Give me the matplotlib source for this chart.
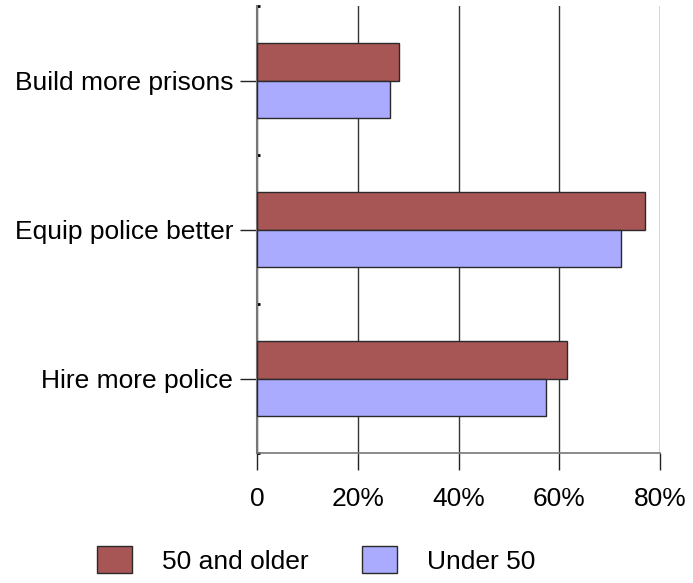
import matplotlib
matplotlib.use("Agg")
import matplotlib.pyplot as plt
import numpy as np
from matplotlib.patches import Patch

categories = ["Build more prisons", "Equip police better", "Hire more police"]
older = [28.1, 77.0, 61.5]
under = [26.4, 72.2, 57.4]
series_names = ["50 and older", "Under 50"]
xticks = [0, 20, 40, 60, 80]
xticklabels = ["0", "20%", "40%", "60%", "80%"]

c_old = "#A85555"
c_under = "#AAAAFF"
edge = "#2a2a2a"

plt.rcParams['font.family'] = ['Liberation Sans', 'DejaVu Sans']
fs = 19

fig = plt.figure(figsize=(6.93, 5.83), dpi=100)
ax = fig.add_axes([257/693, 1-453/583, (660-257)/693, (453-6)/583])

n = len(categories)
pos = np.arange(n)[::-1].astype(float)  # top first
h = 0.255
ax.barh(pos + h/2, older, height=h, color=c_old, edgecolor=edge, linewidth=1, zorder=3)
ax.barh(pos - h/2, under, height=h, color=c_under, edgecolor=edge, linewidth=1, zorder=3)

ax.set_xlim(0, 80)
ax.set_ylim(-0.5, n - 0.5)
ax.set_xticks(xticks)
ax.set_xticklabels(xticklabels, fontsize=fs)
ax.set_yticks(pos)
ax.set_yticklabels(categories, fontsize=fs)
ax.set_yticks(np.arange(n + 1) - 0.5, minor=True)
ax.tick_params(axis='y', which='major', length=12.2, width=1, color='#222222', pad=5)
ax.tick_params(axis='y', which='minor', length=2.5, width=2, direction='in', color='black')
ax.tick_params(axis='x', which='major', length=12.2, width=1, color='#222222', pad=12)

ax.grid(axis='x', color='#333333', linewidth=1, zorder=0)
for s in ['top', 'right']:
    ax.spines[s].set_visible(False)
ax.spines['left'].set_color('#777777')
ax.spines['left'].set_linewidth(1.5)
ax.spines['bottom'].set_color('#777777')
ax.spines['bottom'].set_linewidth(1.2)

handles = [Patch(facecolor=c_old, edgecolor=edge, label=series_names[0]),
           Patch(facecolor=c_under, edgecolor=edge, label=series_names[1])]
fig.legend(handles=handles, loc='center', bbox_to_anchor=(0.456, 1-560/583),
           ncol=2, frameon=False, fontsize=fs, handlelength=1.33, handleheight=1.15,
           handletextpad=1.15, columnspacing=2.0)

fig.savefig("out.png", dpi=100)
